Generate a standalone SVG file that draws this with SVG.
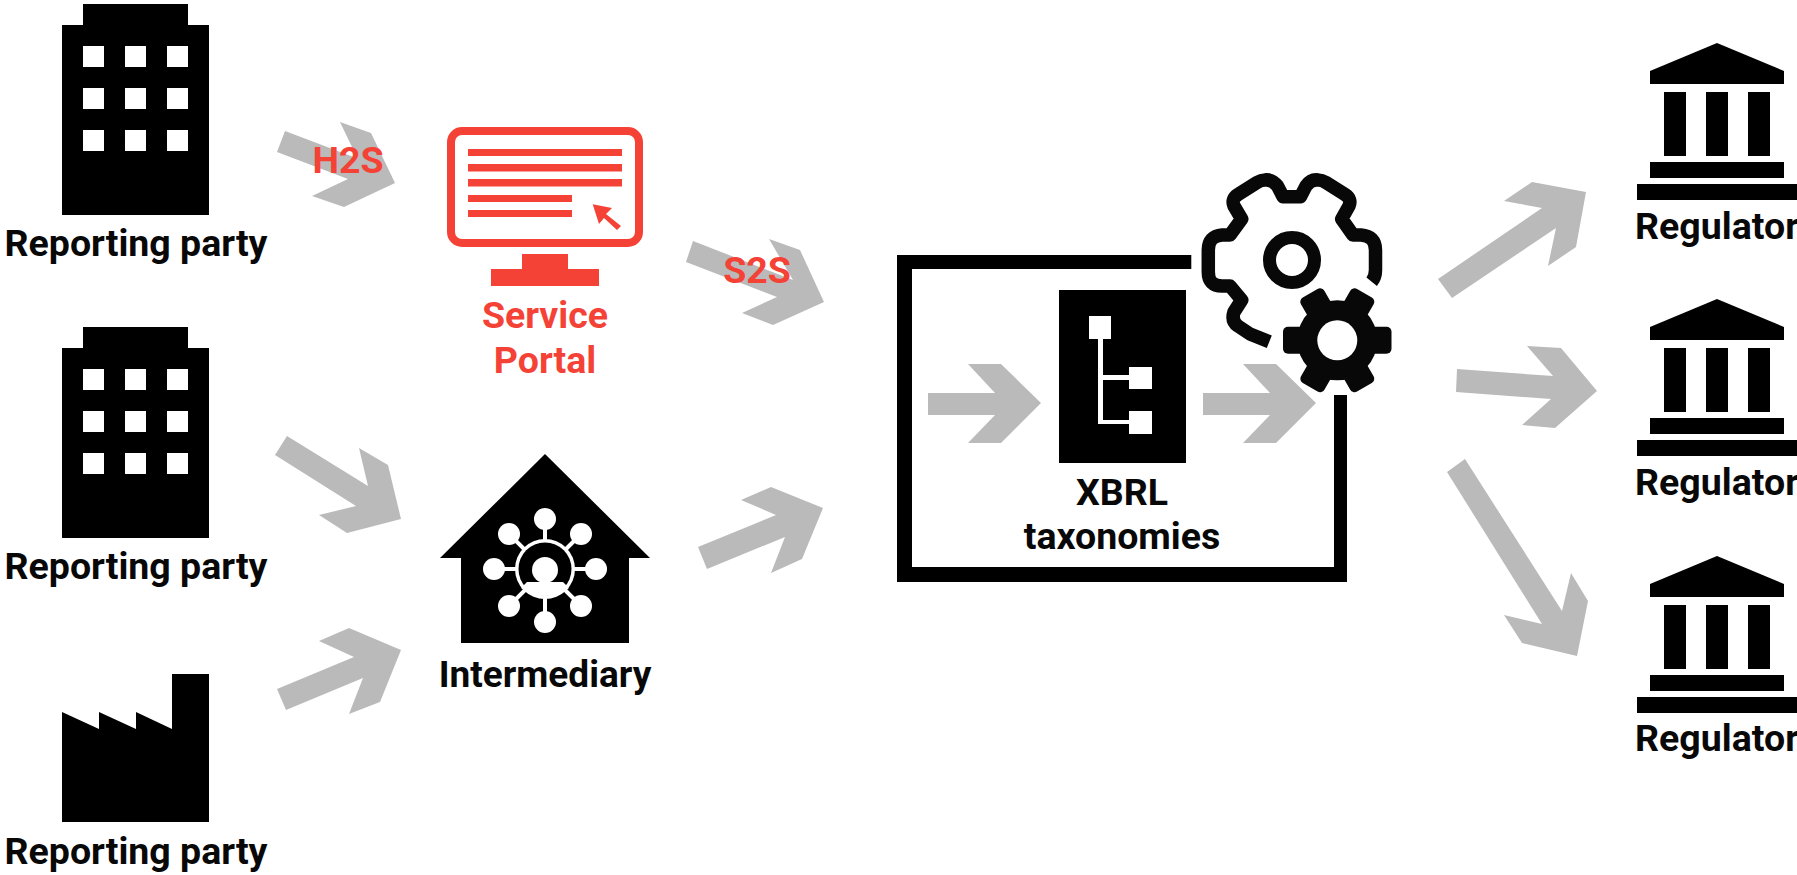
<svg xmlns="http://www.w3.org/2000/svg" xmlns:xlink="http://www.w3.org/1999/xlink" width="1797" height="875" viewBox="0 0 1797 875">
<style>
text{font-family:Roboto,"Liberation Sans",sans-serif;font-weight:700;font-size:37.500px;fill:#080808;text-anchor:middle}
.red{fill:#f44336}
.arrow{fill:#bababa}
.rb{fill:#f44336}
.w{fill:#fff}
.k{fill:#000}
</style>
<defs>
<g id="bank" class="k">
<path d="M1717 43L1784 71V84H1650V71Z"/>
<rect x="1664" y="92" width="22" height="64"/><rect x="1706" y="92" width="22" height="64"/><rect x="1748" y="92" width="22" height="64"/>
<rect x="1650" y="162" width="134" height="16"/><rect x="1637" y="184" width="165" height="16"/>
</g>
<g id="office">
<path class="k" d="M83 4H188V25H209V215H62V25H83Z"/>
<g class="w">
<rect x="83" y="46" width="21" height="21"/><rect x="125" y="46" width="21" height="21"/><rect x="167" y="46" width="21" height="21"/>
<rect x="83" y="88" width="21" height="21"/><rect x="125" y="88" width="21" height="21"/><rect x="167" y="88" width="21" height="21"/>
<rect x="83" y="130" width="21" height="21"/><rect x="125" y="130" width="21" height="21"/><rect x="167" y="130" width="21" height="21"/>
</g>
</g>
<path id="gearOutline" d="M1371.700 281.700Q1375.500 277 1375.500 270V250Q1375.500 236 1361 235H1353L1341.700 219L1349 206Q1352 199 1345 194.500L1326 182.500Q1322 180 1318 180Q1311 179 1306 186L1300.500 196.700H1283L1277.500 186Q1272 179 1265 180Q1261 180 1257 182.500L1238 194.500Q1231 199 1234 206L1241.700 219L1230 235H1222Q1208.300 236 1208.300 250V272Q1208.300 286 1222 286H1230L1241.700 300L1234 312Q1231 321 1238 326L1250 334L1269.300 341.700"/>
</defs>
<g id="connectors" class="arrow">
<path d="M285 131L357.500 158.500L340 122L371 133L395 183L344 207L312 196L348 179L277 152Z"/>
<path d="M693 241L793 280L769 239L800 250L824 302L773 325L742 313L777 297L686 262Z"/>
<path d="M287 436L368 486L359 448L388 465L401 519L347 533L319 515L356 506L275 455Z"/>
<path d="M277 689L354 657L319 641L349 628L401 650L380 702L349 714L363 678L286 710Z"/>
<path d="M698 547L776 515L741 500L771 487L823 508L802 559L771 573L785 537L707 569Z"/>
<path d="M1438 279L1542 208L1504 201L1532 182L1586 192L1576 247L1548 266L1556 228L1452 298Z"/>
<path d="M1457 369L1553 376L1527 346L1561 348L1597 391L1555 428L1522 425L1551 399L1456 392Z"/>
<path d="M1465 459L1562 611L1571 573L1588 601L1577 656L1522 643L1504 615L1542 624L1447 472Z"/>
</g>
<g id="rp1"><use xlink:href="#office"/><text x="136" y="256">Reporting party</text></g>
<g id="rp2"><use xlink:href="#office" y="323"/><text x="136" y="579">Reporting party</text></g>
<g id="rp3"><path class="k" d="M62 712L99 729V712L136 729V712L172 729V674H209V822H62Z"/><text x="136" y="864">Reporting party</text></g>
<text class="red" x="348" y="173">H2S</text>
<text class="red" x="757" y="283">S2S</text>
<g id="portal">
<rect x="451" y="131" width="188" height="112" rx="11" fill="none" stroke="#f44336" stroke-width="8"/>
<g class="rb">
<rect x="468" y="149" width="154" height="7"/><rect x="468" y="164" width="154" height="7.500"/><rect x="468" y="179" width="154" height="7.500"/>
<rect x="468" y="195" width="104" height="7"/><rect x="468" y="210" width="104" height="7"/>
<path d="M592.700 204.300L612 208L606 214L621 226L617 230L604 218L599 224Z"/>
<path d="M522 254H568V269H599V286H491V269H522Z"/>
</g>
<text class="red" x="545" y="328">Service</text>
<text class="red" x="545" y="373">Portal</text>
</g>
<g id="intermediary">
<path class="k" d="M545 454L650 558H629V643H461V558H440Z"/>
<g class="w">
<g stroke="#fff" stroke-width="4"><path d="M545 519V622M494 569H596M509 534L581 606M581 534L509 606"/></g>
<circle cx="545" cy="519" r="11"/><circle cx="545" cy="622" r="11"/><circle cx="494" cy="569" r="11"/><circle cx="596" cy="569" r="11"/>
<circle cx="509" cy="534" r="11"/><circle cx="581" cy="534" r="11"/><circle cx="509" cy="606" r="11"/><circle cx="581" cy="606" r="11"/>
<circle cx="545" cy="569" r="30"/>
</g>
<circle class="k" cx="545" cy="569" r="26.500"/>
<circle class="w" cx="545" cy="570" r="13"/>
<path class="w" d="M527 582H563L569 588Q561 596 545 596Q529 596 521 588Z"/>
<text x="545" y="687" style="font-size:37px">Intermediary</text>
</g>
<g id="xbrl-box">
<path class="k" d="M897 255H1192V269H912V567H1334V395H1347V582H897Z"/>
<use xlink:href="#gearOutline" stroke="#fff" stroke-width="34" stroke-linejoin="round" fill="none"/>
<circle class="w" cx="1337" cy="340" r="55"/>
</g>
<g id="xbrl">
<rect class="k" x="1059" y="290" width="127" height="173"/>
<g class="w">
<rect x="1089" y="316" width="22" height="23"/><rect x="1129" y="367" width="23" height="22"/><rect x="1129" y="411" width="23" height="23"/>
<path d="M1098 339H1103V375H1129V380H1103V420H1129V424H1098Z"/>
</g>
<text x="1122" y="505">XBRL</text>
<text x="1122" y="549">taxonomies</text>
</g>
<g id="inner-arrows" class="arrow">
<path d="M928 393H995L968 364H1001L1041 403L1001 443H968L995 415H928Z"/>
<path d="M1203 393H1270L1243 364H1276L1316 403L1276 443H1243L1270 415H1203Z"/>
</g>
<g id="gears">
<use xlink:href="#gearOutline" fill="none" stroke="#080808" stroke-width="13.500" stroke-linejoin="round"/>
<circle cx="1292" cy="260" r="22.500" fill="none" stroke="#080808" stroke-width="13"/>
<g fill="#080808">
<circle cx="1337.300" cy="340.300" r="40"/>
<rect x="1283" y="326.800" width="108.500" height="27" rx="5"/>
<rect x="1283" y="326.800" width="108.500" height="27" rx="5" transform="rotate(60 1337.300 340.300)"/>
<rect x="1283" y="326.800" width="108.500" height="27" rx="5" transform="rotate(120 1337.300 340.300)"/>
</g>
<circle class="w" cx="1337.300" cy="340.300" r="20"/>
</g>
<g id="reg1"><use xlink:href="#bank"/><text x="1717" y="239">Regulator</text></g>
<g id="reg2"><use xlink:href="#bank" y="256"/><text x="1717" y="495">Regulator</text></g>
<g id="reg3"><use xlink:href="#bank" y="513"/><text x="1717" y="751">Regulator</text></g>
</svg>
